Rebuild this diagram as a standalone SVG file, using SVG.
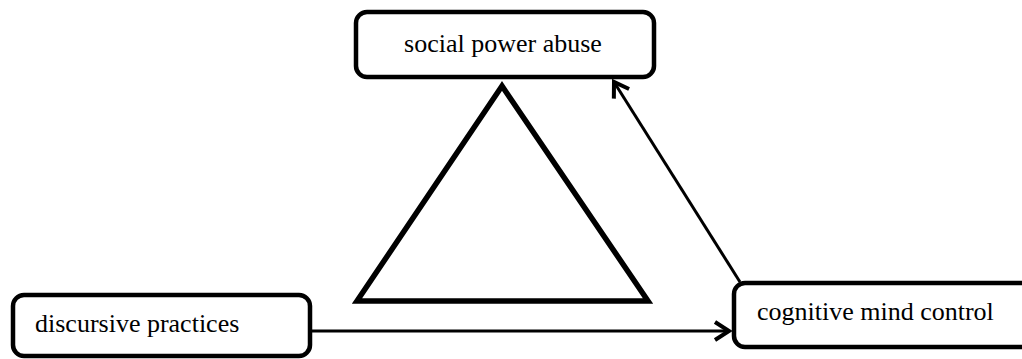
<svg xmlns="http://www.w3.org/2000/svg" width="1022" height="359" viewBox="0 0 1022 359">
<defs>
<style>
.box{fill:#fff;stroke:#000;stroke-width:4.5}
.lbl{font-family:"Liberation Serif","Times New Roman",serif;font-size:26px;fill:#000}
.conn{stroke:#000;stroke-width:3;fill:none}
</style>
<marker id="arr" markerWidth="24" markerHeight="24" refX="20" refY="12" orient="auto" markerUnits="userSpaceOnUse" viewBox="0 0 24 24">
<path d="M6,3 L20,12 L6,21" fill="none" stroke="#000" stroke-width="4" stroke-linecap="butt" stroke-linejoin="miter"/>
</marker>
</defs>
<rect width="1022" height="359" fill="#fff"/>
<g id="triangle">
<polygon points="502,86 357,301 648,301" fill="none" stroke="#000" stroke-width="5.5" stroke-linejoin="miter"/>
</g>
<g id="connectors">
<line class="conn" x1="311" y1="331" x2="729" y2="331" marker-end="url(#arr)"/>
<line class="conn" x1="740" y1="282" x2="614" y2="82" marker-end="url(#arr)"/>
</g>
<g id="social-power-abuse">
<rect class="box" x="356" y="12" width="298" height="65" rx="11"/>
<text class="lbl" x="503" y="52" text-anchor="middle">social power abuse</text>
</g>
<g id="discursive-practices">
<rect class="box" x="13" y="295" width="297" height="61" rx="11"/>
<text class="lbl" x="35" y="332">discursive practices</text>
</g>
<g id="cognitive-mind-control">
<rect class="box" x="734" y="283" width="300" height="64" rx="11"/>
<text class="lbl" x="757" y="320">cognitive mind control</text>
</g>
</svg>
